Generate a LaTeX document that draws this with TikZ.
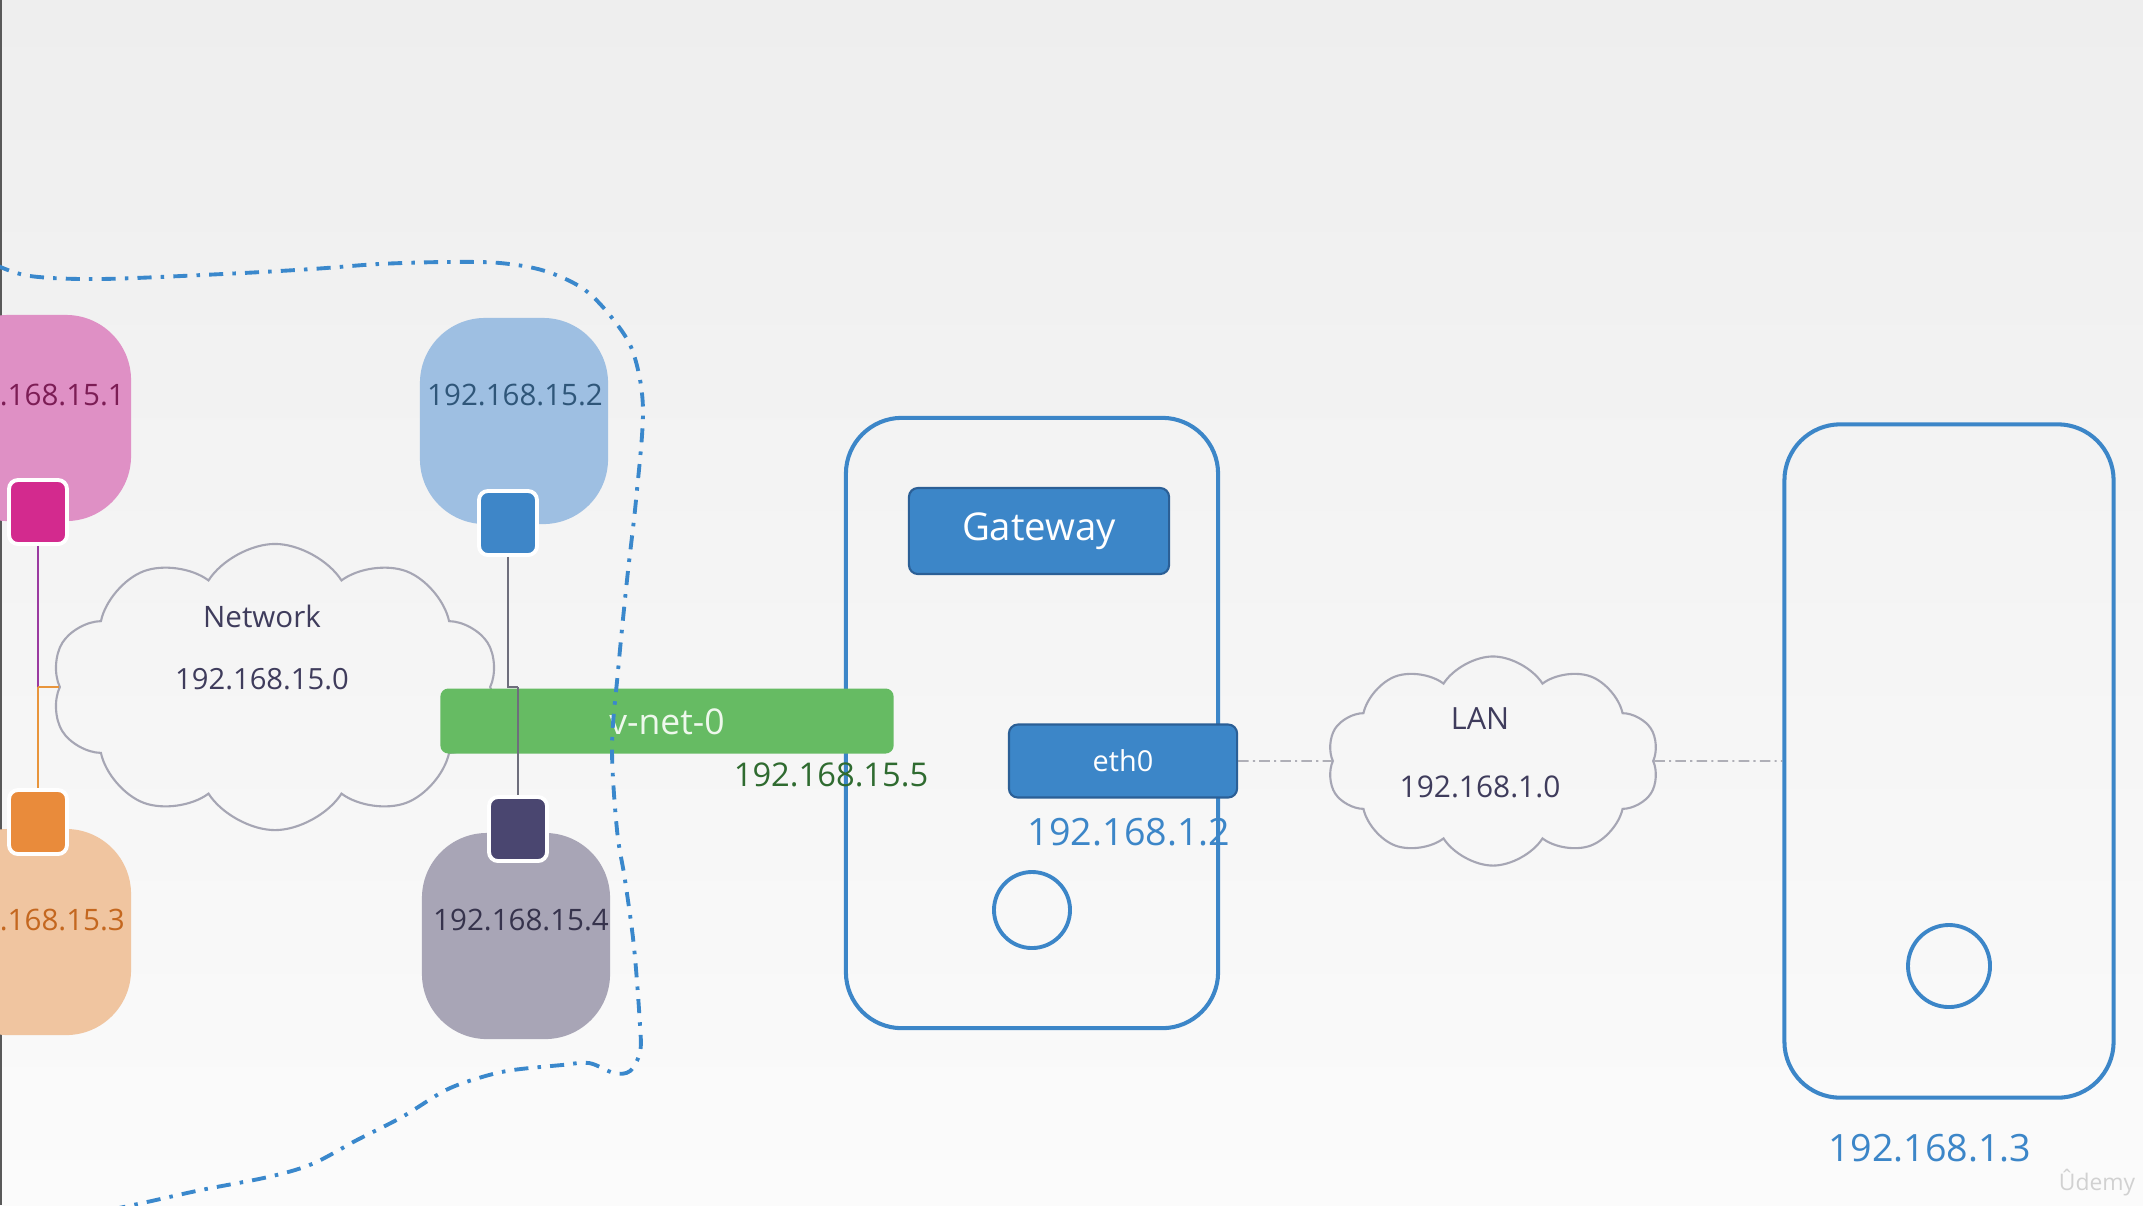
\documentclass[tikz,border=0pt]{standalone}
\usepackage{fontspec}
\setmainfont{Open Sans}
\usetikzlibrary{shapes.symbols}

\definecolor{bgtop}{HTML}{EEEEEE}
\definecolor{bgbot}{HTML}{FBFBFB}
\definecolor{podpink}{HTML}{DF90C5}
\definecolor{portpink}{HTML}{D32A8E}
\definecolor{txtpink}{HTML}{7C1D55}
\definecolor{podblue}{HTML}{9EBFE2}
\definecolor{portblue}{HTML}{3E86C8}
\definecolor{txtblue}{HTML}{2F5679}
\definecolor{podorange}{HTML}{F0C5A0}
\definecolor{portorange}{HTML}{E98B3B}
\definecolor{txtorange}{HTML}{C4671F}
\definecolor{podgray}{HTML}{A8A5B6}
\definecolor{portgray}{HTML}{4A4670}
\definecolor{txtgray}{HTML}{36334C}
\definecolor{vnetgreen}{HTML}{66BB63}
\definecolor{vnettext}{HTML}{EEF8EC}
\definecolor{boxblue}{HTML}{3C86C8}
\definecolor{btnborder}{HTML}{2B5F96}
\definecolor{cloudline}{HTML}{A6A6B4}
\definecolor{cloudtext}{HTML}{3F3C5C}
\definecolor{ipgreen}{HTML}{2F6B30}
\definecolor{wire}{HTML}{6E6E7C}
\definecolor{wirepurple}{HTML}{9A3AA0}
\definecolor{wireorange}{HTML}{E8953C}
\definecolor{dashblue}{HTML}{3A88CC}
\definecolor{linkgray}{HTML}{8A8A96}

\tikzset{
  pod/.style={rounded corners=0.65cm, minimum width=1.88cm, minimum height=2.06cm, inner sep=0pt},
  port/.style={draw=white, line width=1.1pt, rounded corners=0.09cm,
               minimum width=0.58cm, minimum height=0.64cm, inner sep=0pt},
  podip/.style={font=\fontsize{8.4}{10}\selectfont, inner sep=0pt},
  netcloud/.style={cloud, draw=cloudline, line width=0.6pt, cloud puffs=10,
                   cloud puff arc=115, inner sep=0pt},
  cloudlabel/.style={text=cloudtext, inner sep=0pt},
  devbox/.style={draw=boxblue, line width=1.15pt, rounded corners=0.56cm, inner sep=0pt},
  devbtn/.style={circle, draw=boxblue, line width=1.1pt, inner sep=0pt},
  ifbox/.style={fill=boxblue, draw=btnborder, line width=0.6pt, rounded corners=0.09cm,
                text=white, inner sep=0pt},
  wireline/.style={line width=0.45pt},
  thinlink/.style={draw=linkgray, line width=0.4pt,
                   dash pattern=on 3pt off 1.2pt on 0.6pt off 1.2pt},
  zone/.style={draw=dashblue, line width=1.1pt,
               dash pattern=on 4pt off 2.6pt on 1pt off 2.6pt}
}

\begin{document}
\begin{tikzpicture}[x=0.01cm, y=-0.01cm]
  \useasboundingbox (0,0) rectangle (2143,1205);
  \clip (0,0) rectangle (2143,1205);
  \shade[top color=bgtop, bottom color=bgbot] (0,0) rectangle (2143,1205);
  \draw[gray!70!black, line width=0.6pt] (1,0) -- (1,1205);

  % pods
  \node[pod, fill=podpink]   (pod1) at (37,418)  {};
  \node[pod, fill=podblue]   (pod2) at (514,421) {};
  \node[pod, fill=podorange] (pod3) at (37,932)  {};
  \node[pod, fill=podgray]   (pod4) at (516,936) {};
  \node[podip, text=txtpink]   (ip1) at (37,395)  {192.168.15.1};
  \node[podip, text=txtblue]   (ip2) at (515,395) {192.168.15.2};
  \node[podip, text=txtorange] (ip3) at (37,920)  {192.168.15.3};
  \node[podip, text=txtgray]   (ip4) at (521,920) {192.168.15.4};

  % bridge network cloud
  \node[netcloud, minimum width=4.47cm, minimum height=2.86cm] (net) at (275,687) {};
  \node[cloudlabel, font=\fontsize{8.4}{10}\selectfont] (netname) at (262,616) {Network};
  \node[cloudlabel, font=\fontsize{8.3}{10}\selectfont] (netip) at (262,679) {192.168.15.0};

  % gateway host
  \node[devbox, minimum width=3.72cm, minimum height=6.10cm] (gwhost) at (1032,723) {};
  \node[devbtn, minimum size=0.76cm] (gwcirc) at (1032,910) {};
  \node[ifbox, minimum width=2.60cm, minimum height=0.86cm,
        font=\fontsize{10.9}{12}\selectfont] (gw) at (1039,531) {Gateway};

  % wires from the pod ports
  \coordinate (j1) at (38,687);
  \coordinate (j2) at (508,687);
  \coordinate (j3) at (518,687);
  \node[port, fill=portpink]   (p1) at (38,512)  {};
  \node[port, fill=portblue]   (p2) at (508,523) {};
  \node[port, fill=portorange] (p3) at (38,822)  {};
  \node[port, fill=portgray]   (p4) at (518,829) {};
  \draw[wireline, wirepurple] (p1.south) -- (j1);
  \draw[wireline, wireorange] (j1) -- (p3.north);
  \draw[wireline, wireorange] (j1) -- (net.west |- j1);
  \draw[wireline, wire] (p2.south) -- (j2) -- (j3);

  % virtual bridge
  \node[fill=vnetgreen, rounded corners=0.08cm, minimum width=4.53cm, minimum height=0.65cm,
        inner sep=0pt] (vnet) at (667,721) {};
  \node[text=vnettext, font=\fontsize{10.1}{12}\selectfont, inner sep=0pt] (vnetname) at (667,722) {v-net-0};
  \draw[wireline, wire] (j3) -- (p4.north);

  % namespace boundary
  \draw[zone] plot[smooth, tension=0.55] coordinates {
    (-4,265) (30,276) (100,279) (223,274) (312,269) (379,264) (446,262) (500,263)
    (545,271) (585,290) (616,323) (634,355) (643,410) (636,500) (627,580) (618,671)
    (612,747) (617,830) (625,880) (634,947) (640,1025) (640,1052) (630,1071)
    (614,1073) (589,1063) (562,1065) (513,1070) (482,1077) (446,1090) (402,1117)
    (357,1140) (312,1164) (268,1177) (201,1190) (147,1202) (100,1212)};

  \node[text=ipgreen, font=\fontsize{9.3}{11}\selectfont, inner sep=0pt] (vnetip) at (831,775) {192.168.15.5};

  % host interface
  \node[ifbox, minimum width=2.28cm, minimum height=0.73cm,
        font=\fontsize{8.2}{10}\selectfont] (eth0) at (1123,761) {eth0};
  \node[text=boxblue, font=\fontsize{10.7}{12}\selectfont, inner sep=0pt] (ethip) at (1129,832) {192.168.1.2};

  % LAN
  \node[netcloud, minimum width=3.32cm, minimum height=2.09cm] (lan) at (1493,761) {};
  \node[cloudlabel, font=\fontsize{8.7}{10}\selectfont] (lanname) at (1480,719) {LAN};
  \node[cloudlabel, font=\fontsize{8.5}{10}\selectfont] (lanip) at (1480,787) {192.168.1.0};

  % second host on the LAN
  \node[devbox, minimum width=3.29cm, minimum height=6.73cm] (host) at (1949,761) {};
  \node[devbtn, minimum size=0.82cm] (hostcirc) at (1949,966) {};
  \node[text=boxblue, font=\fontsize{10.7}{12}\selectfont, inner sep=0pt] (hostip) at (1930,1148) {192.168.1.3};

  \draw[thinlink] (eth0.east) -- (lan.west);
  \draw[thinlink] (lan.east) -- (host.west);

  \node[text=black!18, font=\fontsize{6.5}{8}\selectfont, inner sep=0pt] (mark) at (2097,1183) {Ûdemy};
\end{tikzpicture}
\end{document}
